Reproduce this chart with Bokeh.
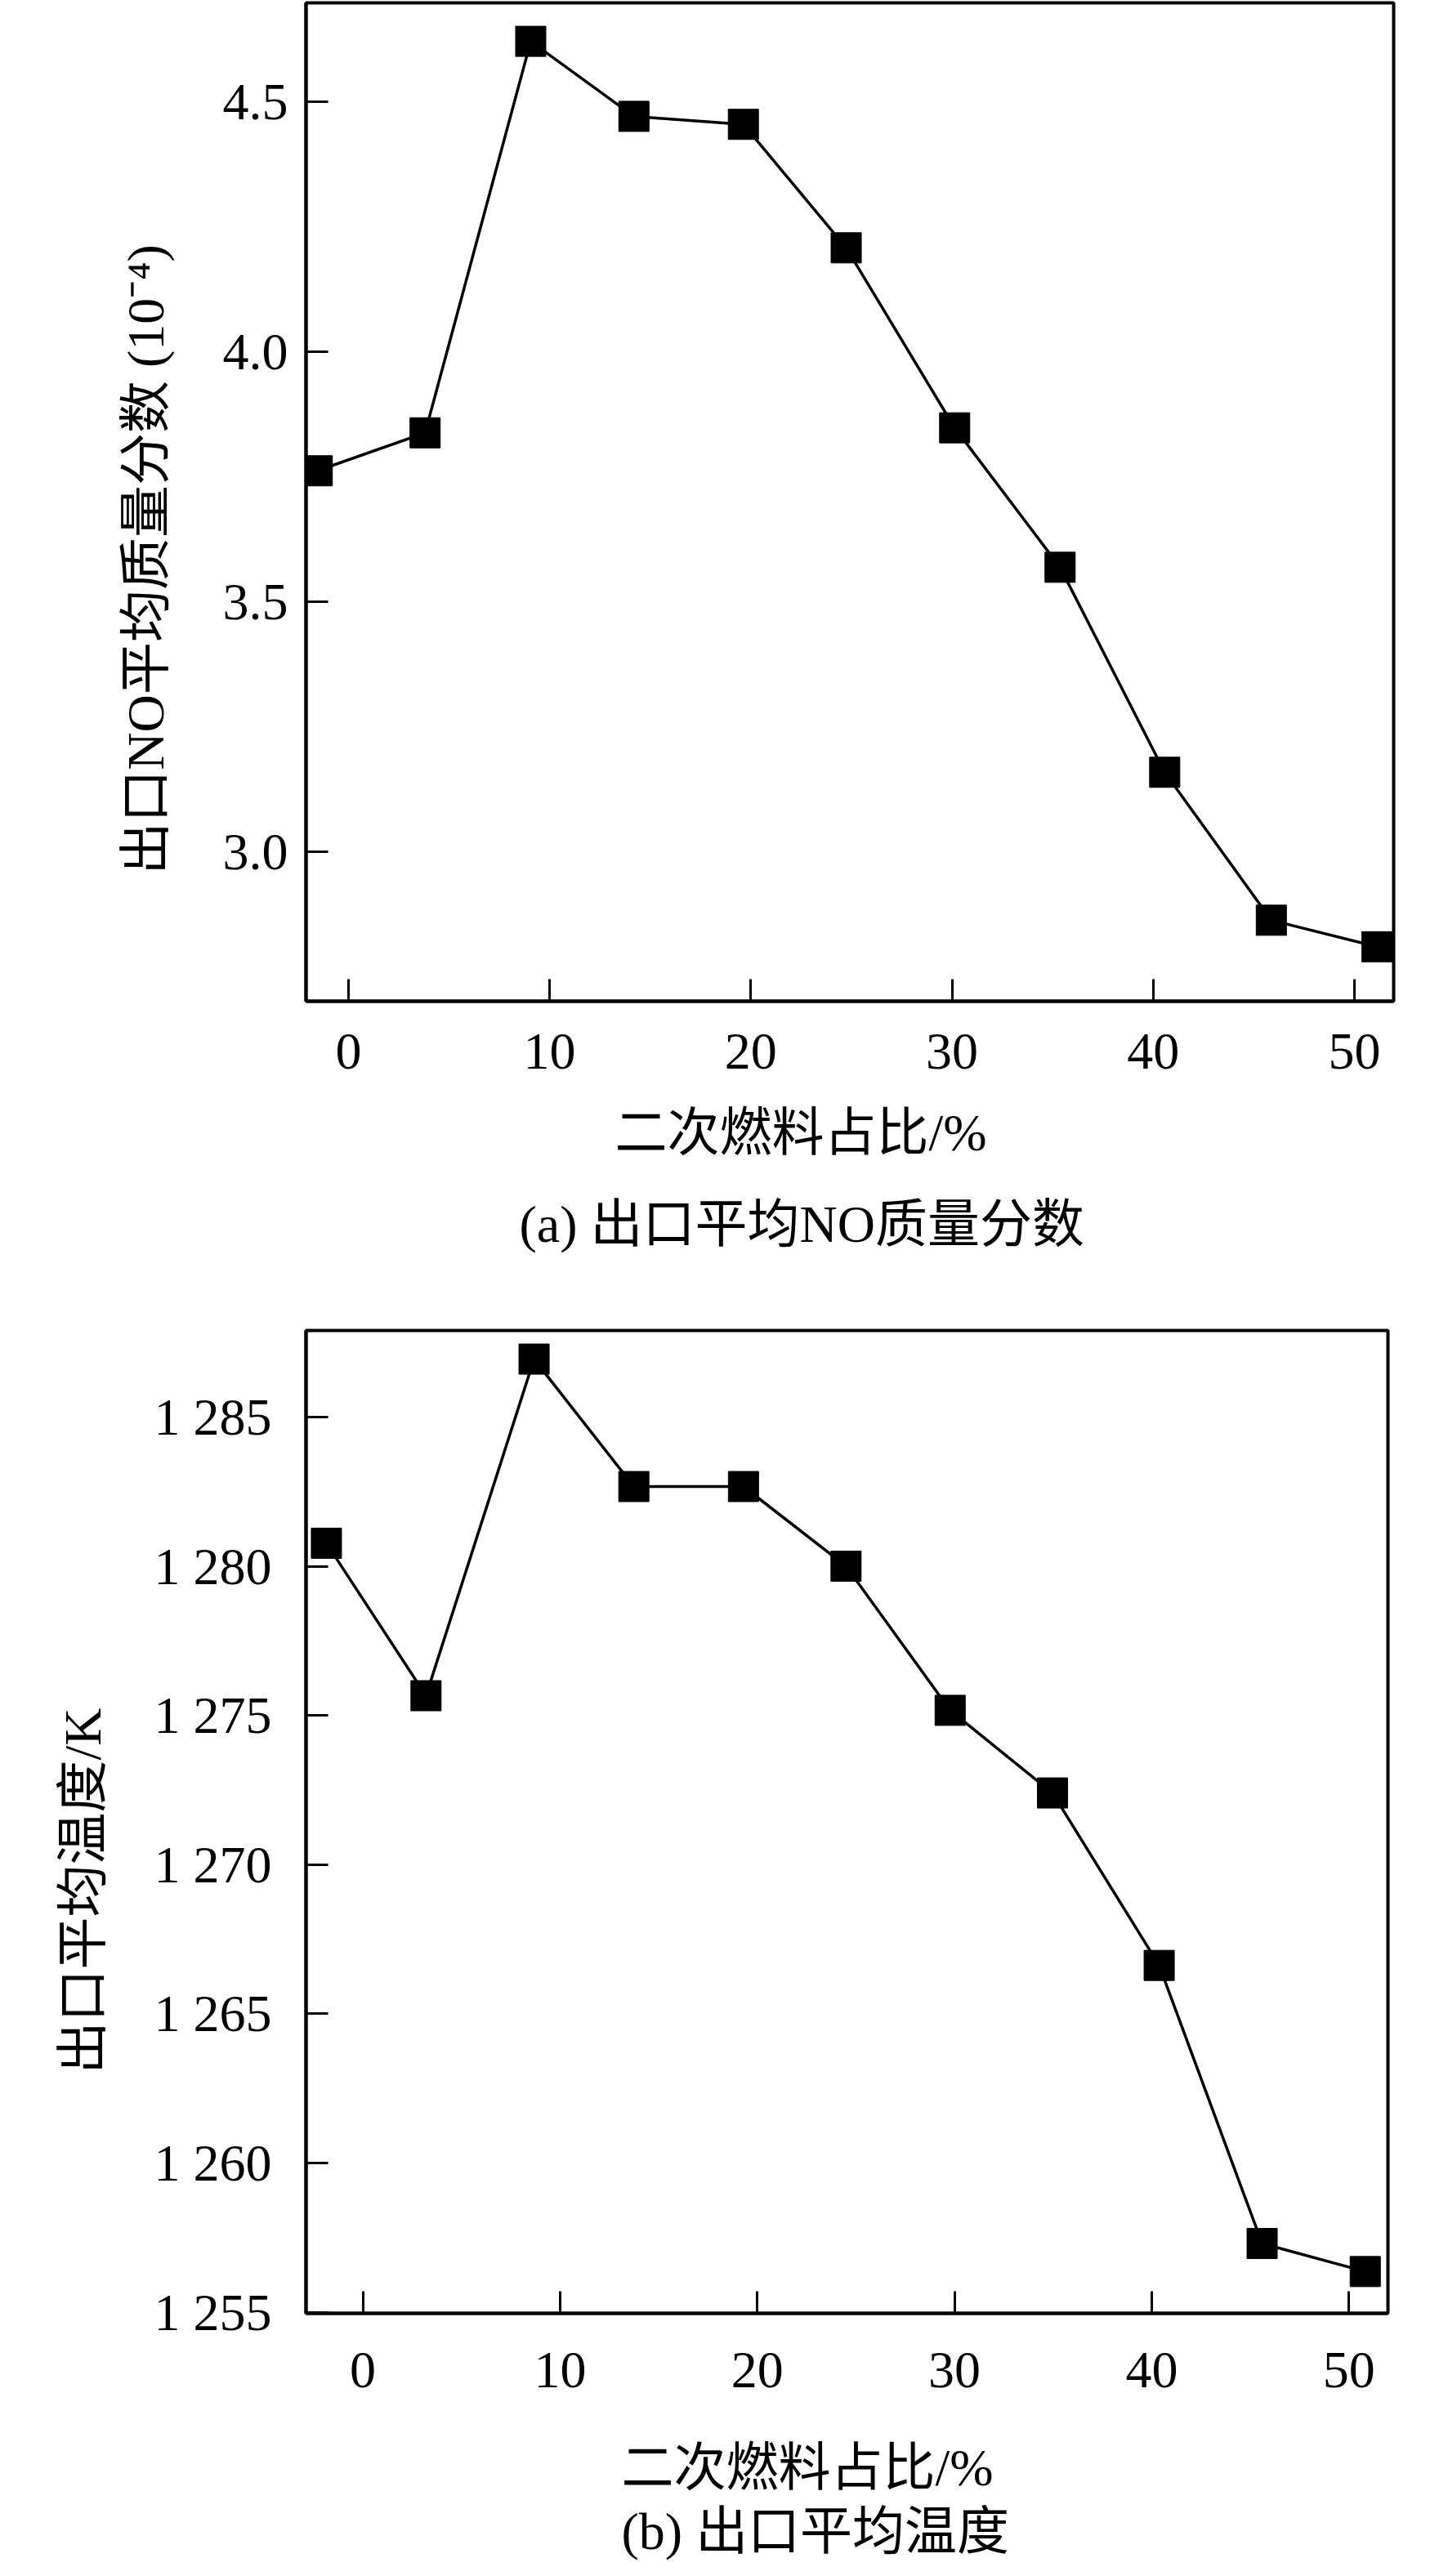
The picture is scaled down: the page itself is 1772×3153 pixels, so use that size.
from bokeh.plotting import figure
from bokeh.layouts import column
from bokeh.models import Range1d, FixedTicker, CustomJSTickFormatter, Title
from bokeh.embed import file_html
from bokeh.resources import INLINE

# ---------------- data ----------------
ratio_a = [-1.55, 3.81, 9.06, 14.19, 19.63, 24.74, 30.13, 35.37, 40.57, 45.87, 51.12]
no_frac = [3.762, 3.838, 4.621, 4.471, 4.455, 4.208, 3.848, 3.569, 3.159, 2.863, 2.810]

ratio_b = [-1.85, 3.20, 8.68, 13.74, 19.30, 24.50, 29.78, 34.97, 40.38, 45.60, 50.83]
temp_k = [1280.77, 1275.66, 1286.94, 1282.67, 1282.67, 1280.00, 1275.17, 1272.40, 1266.62, 1257.30, 1256.36]

x_ticks = [0, 10, 20, 30, 40, 50]
y_ticks_a = [3.0, 3.5, 4.0, 4.5]
y_ticks_b = [1255, 1260, 1265, 1270, 1275, 1280, 1285]

x_title = "二次燃料占比/%"
y_title_a = "出口NO平均质量分数 (10⁻⁴)"
y_title_b = "出口平均温度/K"
caption_a = "(a) 出口平均NO质量分数"
caption_b = "(b) 出口平均温度"

FONT = "Liberation Serif, Noto Sans CJK SC"
FS = "64px"


def make_fig(xs, ys, x_rng, y_rng, fw, fh, mb_left, mb_right, mb_top, mb_bottom,
             y_ticks, y_fmt_code, y_standoff, x_standoff):
    p = figure(output_backend="svg", toolbar_location=None,
               x_range=Range1d(*x_rng), y_range=Range1d(*y_rng),
               frame_width=fw, frame_height=fh,
               min_border_left=mb_left, min_border_right=mb_right,
               min_border_top=mb_top, min_border_bottom=mb_bottom,
               background_fill_color="white", border_fill_color="white")
    p.grid.visible = False
    p.outline_line_color = "black"
    p.outline_line_width = 4
    p.outline_line_alpha = 1.0

    for ax in (p.xaxis[0], p.yaxis[0]):
        ax.axis_line_width = 4
        ax.axis_line_color = "black"
        ax.major_tick_in = 27
        ax.major_tick_out = 0
        ax.major_tick_line_width = 3
        ax.major_tick_line_color = "black"
        ax.minor_tick_in = 0
        ax.minor_tick_out = 0
        ax.major_label_text_font = FONT
        ax.major_label_text_font_size = FS
        ax.major_label_text_color = "black"

    p.xaxis.ticker = FixedTicker(ticks=x_ticks)
    p.xaxis.major_label_standoff = x_standoff
    p.yaxis.ticker = FixedTicker(ticks=y_ticks)
    p.yaxis.formatter = CustomJSTickFormatter(code=y_fmt_code)
    p.yaxis.major_label_standoff = y_standoff

    p.line(xs, ys, line_color="black", line_width=3.5)
    p.scatter(xs, ys, marker="square", size=37, fill_color="black", line_color="black")
    return p


def add_title(p, side, text, offset, standoff, line_height=1.2):
    p.add_layout(Title(text=text, align="left", offset=offset, standoff=standoff,
                       text_font=FONT, text_font_size=FS, text_font_style="normal",
                       text_line_height=line_height, text_color="black"), side)


# ---------- figure (a) ----------
# frame page-x 372..1703, page-y 3..1225
pa = make_fig(ratio_a, no_frac, (-2.108, 51.95), (2.701, 4.698),
              1331, 1222, 372, 57, 3, 375,
              y_ticks_a, "return tick.toFixed(1);", 22, 40)
add_title(pa, "below", x_title, 378, 76)
add_title(pa, "below", caption_a, 261, 2)
add_title(pa, "left", y_title_a, 155, 112)

# ---------- figure (b) ----------
# frame page-x 374..1698, page-y 1628..2831
pb = make_fig(ratio_b, temp_k, (-2.884, 51.98), (1254.96, 1287.90),
              1324, 1203, 374, 62, 28, 300,
              y_ticks_b,
              "const s = tick.toFixed(0); return s.slice(0, 1) + ' ' + s.slice(1);", 42, 48)
add_title(pb, "below", x_title + "\n" + caption_b, 386, 118, 1.1)
add_title(pb, "left", y_title_b, 293, 98)

layout = column(pa, pb, spacing=0)
open("out.html", "w").write(file_html(layout, INLINE))
